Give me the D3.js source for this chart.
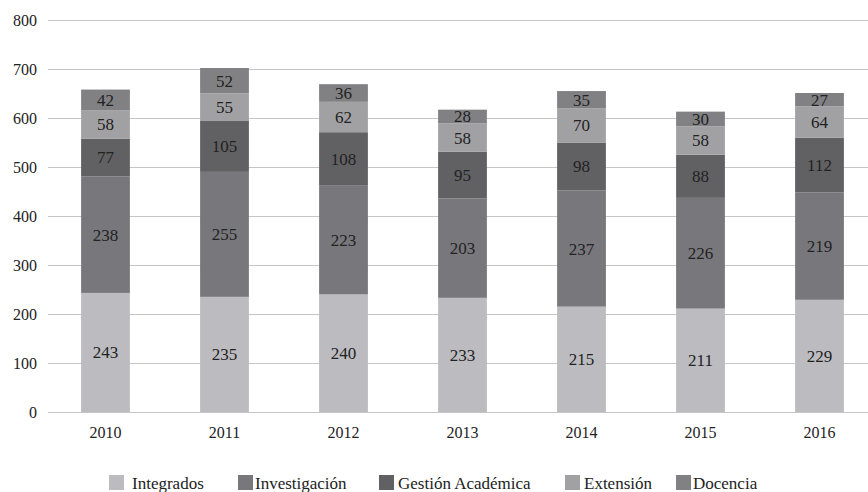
<!DOCTYPE html>
<html>
<head>
<meta charset="utf-8">
<script src="https://cdn.jsdelivr.net/npm/d3@7"></script>
<style>
  body { margin: 0; background: #fff; }
  svg text { font-family: "Times New Roman", "Liberation Serif", Tinos, "Noto Serif", "DejaVu Serif", FreeSerif, serif !important; }
</style>
</head>
<body>
<div id="chart"></div>
<script>
var years = ["2010", "2011", "2012", "2013", "2014", "2015", "2016"];
var seriesNames = ["Integrados", "Investigación", "Gestión Académica", "Extensión", "Docencia"];
var integrados = [243, 235, 240, 233, 215, 211, 229];
var investigacion = [238, 255, 223, 203, 237, 226, 219];
var gestion = [77, 105, 108, 95, 98, 88, 112];
var extension = [58, 55, 62, 58, 70, 58, 64];
var docencia = [42, 52, 36, 28, 35, 30, 27];
var yTicks = [0, 100, 200, 300, 400, 500, 600, 700, 800];

var colors = ["#bcbcc0", "#78787c", "#616164", "#a1a1a4", "#818184"];

var svgWidth = 868;
var svgHeight = 492;

var svg = d3.select("#chart")
  .append("svg")
  .attr("width", svgWidth)
  .attr("height", svgHeight);

// build table rows for the stack
var rows = years.map(function(y, i) {
  return {
    year: y,
    "Integrados": integrados[i],
    "Investigación": investigacion[i],
    "Gestión Académica": gestion[i],
    "Extensión": extension[i],
    "Docencia": docencia[i]
  };
});

var stacked = d3.stack().keys(seriesNames)(rows);

var xScale = d3.scaleBand()
  .domain(years)
  .range([46, 879])
  .paddingInner(0.59)
  .paddingOuter(0.295);

var yScale = d3.scaleLinear()
  .domain([0, 800])
  .range([412, 20]);

// gridlines
svg.append("g")
  .selectAll("line")
  .data(yTicks)
  .enter()
  .append("line")
  .attr("x1", 48)
  .attr("x2", 868)
  .attr("y1", function(d) { return yScale(d) + 0.5; })
  .attr("y2", function(d) { return yScale(d) + 0.5; })
  .attr("stroke", "#c6c6c6")
  .attr("stroke-width", 1.2);

// y axis labels
var leftAxis = d3.axisLeft(yScale).tickValues(yTicks).tickSize(0).tickPadding(0);
var yAxisG = svg.append("g")
  .attr("transform", "translate(37,0)")
  .call(leftAxis);
yAxisG.select(".domain").remove();
yAxisG.selectAll("text")
  .attr("font-size", "16px")
  .attr("fill", "#222");

// bars
var groups = svg.append("g")
  .selectAll("g")
  .data(stacked)
  .enter()
  .append("g")
  .attr("fill", function(d, i) { return colors[i]; });

groups.selectAll("rect")
  .data(function(d) { return d; })
  .enter()
  .append("rect")
  .attr("x", function(d) { return xScale(d.data.year); })
  .attr("width", xScale.bandwidth())
  .attr("y", function(d) { return yScale(d[1]); })
  .attr("height", function(d) { return yScale(d[0]) - yScale(d[1]); });

// value labels
groups.selectAll("text")
  .data(function(d) { return d; })
  .enter()
  .append("text")
  .attr("x", function(d) { return xScale(d.data.year) + xScale.bandwidth() / 2; })
  .attr("y", function(d) { return (yScale(d[0]) + yScale(d[1])) / 2; })
  .attr("dy", "0.35em")
  .attr("text-anchor", "middle")
  .attr("font-size", "17px")
  .attr("fill", "#222")
  .text(function(d) { return d[1] - d[0]; });

// x axis labels
var bottomAxis = d3.axisBottom(xScale).tickSize(0).tickPadding(0);
var xAxisG = svg.append("g")
  .attr("transform", "translate(0,427)")
  .call(bottomAxis);
xAxisG.select(".domain").remove();
xAxisG.selectAll("text")
  .attr("font-size", "16px")
  .attr("fill", "#222");

// legend
var legendX = [109, 238, 379, 565, 676];
var legendTextX = [132, 255, 398, 584, 693];
var legend = svg.append("g")
  .selectAll("g")
  .data(seriesNames)
  .enter()
  .append("g");

legend.append("rect")
  .attr("x", function(d, i) { return legendX[i]; })
  .attr("y", 475)
  .attr("width", 15)
  .attr("height", 15)
  .attr("fill", function(d, i) { return colors[i]; });

legend.append("text")
  .attr("x", function(d, i) { return legendTextX[i]; })
  .attr("y", 489)
  .attr("font-size", "17px")
  .attr("fill", "#222")
  .text(function(d) { return d; });
</script>
</body>
</html>
